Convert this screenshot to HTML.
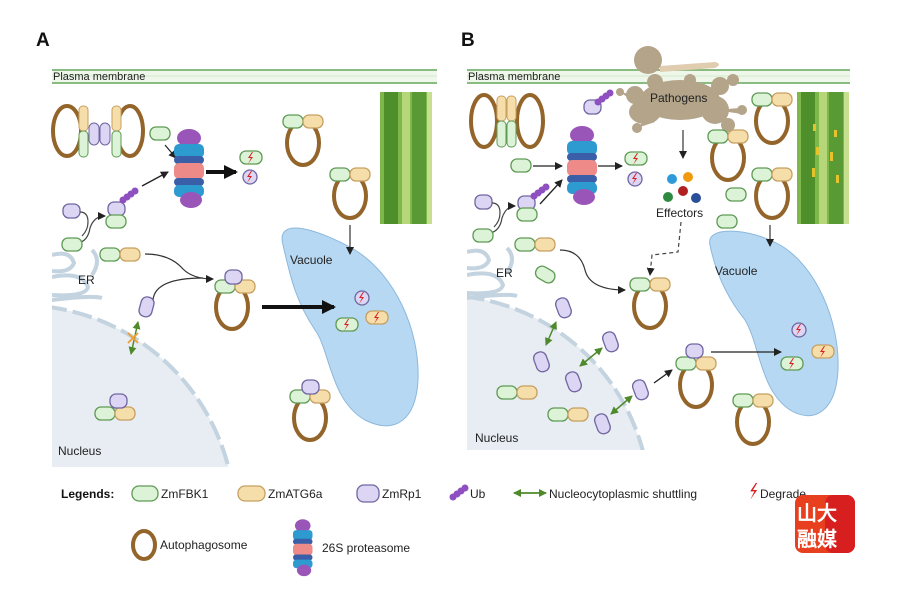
<!DOCTYPE html>
<html><head><meta charset="utf-8"><style>
html,body{margin:0;padding:0;background:#fff;width:900px;height:600px;overflow:hidden}
svg{display:block}
text{font-family:"Liberation Sans",Arial,sans-serif}
</style></head><body>
<svg width="900" height="600" viewBox="0 0 900 600" xmlns="http://www.w3.org/2000/svg">
<defs>
<marker id="ah" markerWidth="8" markerHeight="8" refX="7" refY="4" orient="auto" markerUnits="userSpaceOnUse"><path d="M0,0 L8,4 L0,8 z" fill="#222"/></marker>
<marker id="ahb" markerWidth="14" markerHeight="14" refX="12" refY="7" orient="auto" markerUnits="userSpaceOnUse"><path d="M0,0 L14,7 L0,14 z" fill="#111"/></marker>
<marker id="ga" markerWidth="8" markerHeight="8" refX="7" refY="4" orient="auto-start-reverse" markerUnits="userSpaceOnUse"><path d="M0,0 L8,4 L0,8 z" fill="#4e8a2c"/></marker>
<g id="G"><rect x="0" y="0" width="20" height="13" rx="6" fill="#dcf3d8" stroke="#5f9a55" stroke-width="1.3"/></g>
<g id="Y"><rect x="0" y="0" width="20" height="13" rx="6" fill="#f6deaa" stroke="#c6a060" stroke-width="1.3"/></g>
<g id="P"><rect x="0" y="0" width="17" height="14" rx="6" fill="#dcd6f4" stroke="#6f66a0" stroke-width="1.3"/></g>
<g id="PV"><rect x="0" y="0" width="13" height="20" rx="6" fill="#dcd6f4" stroke="#6f66a0" stroke-width="1.3"/></g>
<g id="R"><ellipse cx="0" cy="0" rx="16" ry="22" fill="none" stroke="#93652a" stroke-width="4"/></g>
<g id="GY"><use href="#G"/><use href="#Y" x="20"/></g>
<g id="RGY"><use href="#R" x="20" y="28"/><use href="#GY" x="0" y="0"/></g>
<g id="bolt"><path d="M2,0 L-2,6 L1,6 L-2,12 L3,5 L0,5 L3,0z" fill="#d82020"/></g>
<g id="DG"><rect x="0" y="0" width="22" height="13" rx="6" fill="#dcf3d8" stroke="#5f9a55" stroke-width="1.3"/><use href="#bolt" x="10" y="1"/></g>
<g id="DY"><rect x="0" y="0" width="22" height="13" rx="6" fill="#f6deaa" stroke="#c6a060" stroke-width="1.3"/><use href="#bolt" x="10" y="1"/></g>
<g id="DP"><circle cx="8" cy="7" r="7" fill="#dcd6f4" stroke="#6f66a0" stroke-width="1.3"/><use href="#bolt" x="7" y="1"/></g>
<g id="UB"><circle cx="0" cy="0" r="3.5" fill="#8e4fc0"/><circle cx="4" cy="-3" r="3.5" fill="#8e4fc0"/><circle cx="8" cy="-6" r="3.5" fill="#8e4fc0"/><circle cx="12" cy="-9" r="3.5" fill="#8e4fc0"/></g>
<g id="PRO">
<ellipse cx="15" cy="8" rx="12" ry="9" fill="#9a55b8"/>
<rect x="0" y="14" width="30" height="14" rx="5" fill="#2e9bd0"/>
<rect x="0" y="26" width="30" height="8" rx="4" fill="#3a5fa8"/>
<rect x="0" y="33" width="30" height="16" rx="5" fill="#ee8a88"/>
<rect x="0" y="48" width="30" height="8" rx="4" fill="#3a5fa8"/>
<rect x="0" y="55" width="30" height="12" rx="5" fill="#2e9bd0"/>
<ellipse cx="17" cy="70" rx="11" ry="8" fill="#9a55b8"/>
</g>
<g id="LEAF"><rect x="0" y="0" width="52" height="132" fill="#7fb84a"/><rect x="4" y="0" width="14" height="132" fill="#4e8f2c"/><rect x="22" y="0" width="8" height="132" fill="#b6d67a"/><rect x="32" y="0" width="14" height="132" fill="#5a9a34"/><rect x="47" y="0" width="5" height="132" fill="#c6e090"/></g>
</defs>

<text x="36" y="46" font-size="19" font-weight="bold" fill="#111">A</text>
<text x="461" y="46" font-size="19" font-weight="bold" fill="#111">B</text>

<!-- ===== PANEL A ===== -->
<g>
<clipPath id="ca"><rect x="52" y="84" width="385" height="383"/></clipPath>
<g clip-path="url(#ca)">
<circle cx="20" cy="520" r="215" fill="#e7edf2"/>
<circle cx="20" cy="520" r="215" fill="none" stroke="#c3d3df" stroke-width="4" stroke-dasharray="20 6"/>
<g fill="none" stroke="#c3d3df" stroke-width="4">
<path d="M52,255 q18,-5 22,8 q-4,10 -22,8"/>
<path d="M52,277 q30,-6 36,10 q-2,10 -36,8"/>
<path d="M52,300 q40,-5 50,-2"/>
<path d="M92,250 q10,10 0,25"/>
</g>
</g>
<rect x="52" y="69" width="385" height="15" fill="#eef7ea"/>
<line x1="52" y1="70" x2="437" y2="70" stroke="#88bc80" stroke-width="2"/>
<line x1="52" y1="83" x2="437" y2="83" stroke="#88bc80" stroke-width="2"/>
<line x1="52" y1="76" x2="437" y2="76" stroke="#d3e8cc" stroke-width="1"/>
<text x="53" y="80" font-size="11" fill="#222">Plasma membrane</text>

<ellipse cx="67" cy="131" rx="14" ry="25" fill="none" stroke="#93652a" stroke-width="4"/>
<ellipse cx="130" cy="131" rx="13" ry="25" fill="none" stroke="#93652a" stroke-width="4"/>
<rect x="79" y="106" width="9" height="25" rx="4" fill="#f6deaa" stroke="#c6a060"/>
<rect x="79" y="131" width="9" height="26" rx="4" fill="#dcf3d8" stroke="#5f9a55"/>
<rect x="112" y="106" width="9" height="25" rx="4" fill="#f6deaa" stroke="#c6a060"/>
<rect x="112" y="131" width="9" height="26" rx="4" fill="#dcf3d8" stroke="#5f9a55"/>
<rect x="89" y="123" width="10" height="22" rx="5" fill="#dcd6f4" stroke="#6f66a0"/>
<rect x="100" y="123" width="10" height="22" rx="5" fill="#dcd6f4" stroke="#6f66a0"/>

<use href="#G" x="150" y="127"/>
<line x1="165" y1="145" x2="176" y2="158" stroke="#222" stroke-width="1.2" marker-end="url(#ah)"/>
<use href="#PRO" x="174" y="130"/>
<line x1="206" y1="172" x2="236" y2="172" stroke="#111" stroke-width="4" marker-end="url(#ahb)"/>
<use href="#DG" x="240" y="151"/>
<use href="#DP" x="242" y="170"/>

<use href="#P" x="63" y="204"/>
<path d="M80,212 q8,0 8,10 q0,8 -6,14" fill="none" stroke="#444" stroke-width="1.2"/>
<path d="M78,243 q10,-2 12,-15 q4,-12 15,-12" fill="none" stroke="#444" stroke-width="1.2" marker-end="url(#ah)"/>
<use href="#P" x="108" y="202"/>
<use href="#G" x="106" y="215"/>
<use href="#UB" x="123" y="200"/>
<line x1="142" y1="186" x2="168" y2="172" stroke="#222" stroke-width="1.3" marker-end="url(#ah)"/>
<use href="#G" x="62" y="238"/>
<use href="#GY" x="100" y="248"/>

<path d="M145,254 q25,0 38,15 q10,10 30,10" fill="none" stroke="#333" stroke-width="1.2" marker-end="url(#ah)"/>
<path d="M153,300 q2,-22 50,-22" fill="none" stroke="#333" stroke-width="1.2"/>
<use href="#PV" x="140" y="297" transform="rotate(15 147 307)"/>
<text x="78" y="284" font-size="12" fill="#222">ER</text>

<line x1="138" y1="322" x2="131" y2="354" stroke="#4e8a2c" stroke-width="1.5" marker-start="url(#ga)" marker-end="url(#ga)"/>
<path d="M128,333 l10,10 M138,333 l-10,10" stroke="#f0a030" stroke-width="1.8"/>

<use href="#R" x="232" y="307"/>
<use href="#GY" x="215" y="280"/>
<use href="#P" x="225" y="270"/>

<use href="#RGY" x="283" y="115"/>
<use href="#RGY" x="330" y="168"/>
<use href="#LEAF" x="380" y="92"/>
<path d="M283,245 C275,215 320,230 355,250 C395,275 420,330 418,380 C416,420 395,435 365,420 C330,400 330,350 315,330 C295,300 290,275 283,245 z" fill="#b7d8f2" stroke="#8cb8dc" stroke-width="1"/>
<line x1="262" y1="307" x2="334" y2="307" stroke="#111" stroke-width="4" marker-end="url(#ahb)"/>
<line x1="350" y1="225" x2="350" y2="254" stroke="#333" stroke-width="1.2" marker-end="url(#ah)"/>
<text x="290" y="264" font-size="12" fill="#222">Vacuole</text>
<use href="#DP" x="354" y="291"/>
<use href="#DY" x="366" y="311"/>
<use href="#DG" x="336" y="318"/>

<use href="#RGY" x="290" y="390"/>
<use href="#P" x="302" y="380"/>
<use href="#GY" x="95" y="407"/>
<use href="#P" x="110" y="394"/>
<text x="58" y="455" font-size="12" fill="#222">Nucleus</text>
</g>

<!-- ===== PANEL B ===== -->
<g>
<clipPath id="cb"><rect x="467" y="84" width="383" height="366"/></clipPath>
<g clip-path="url(#cb)">
<circle cx="440" cy="505" r="210" fill="#e7edf2"/>
<circle cx="440" cy="505" r="210" fill="none" stroke="#c3d3df" stroke-width="4" stroke-dasharray="20 6"/>
<g fill="none" stroke="#c3d3df" stroke-width="4">
<path d="M467,252 q18,-5 22,8 q-4,10 -22,8"/>
<path d="M467,275 q30,-6 36,10 q-2,10 -36,8"/>
<path d="M467,298 q40,-5 50,-2"/>
<path d="M507,248 q10,10 0,25"/>
</g>
</g>
<rect x="467" y="69" width="383" height="15" fill="#eef7ea"/>
<line x1="467" y1="70" x2="850" y2="70" stroke="#88bc80" stroke-width="2"/>
<line x1="467" y1="83" x2="850" y2="83" stroke="#88bc80" stroke-width="2"/>
<line x1="467" y1="76" x2="850" y2="76" stroke="#d3e8cc" stroke-width="1"/>
<text x="468" y="80" font-size="11" fill="#222">Plasma membrane</text>

<g fill="#b3a48a">
<path d="M660,66 L715,62 q8,2 0,6 L660,72z" fill="#e0cdb0"/>
<circle cx="648" cy="60" r="14"/>
<ellipse cx="680" cy="100" rx="40" ry="20"/>
<circle cx="655" cy="82" r="8"/>
<circle cx="690" cy="80" r="6"/>
<circle cx="720" cy="86" r="9"/>
<circle cx="733" cy="80" r="6"/>
<ellipse cx="645" cy="112" rx="16" ry="12"/>
<ellipse cx="715" cy="110" rx="14" ry="14"/>
<circle cx="635" cy="95" r="9"/>
<circle cx="620" cy="92" r="4"/>
<circle cx="728" cy="125" r="7"/>
<circle cx="742" cy="110" r="5"/>
<circle cx="637" cy="128" r="5"/>
<path d="M620,92 L640,96 L640,106 Z"/>
<path d="M637,128 L650,115 L655,122z"/>
<path d="M715,110 L740,108 L742,114z"/>
</g>
<text x="650" y="102" font-size="12" fill="#222">Pathogens</text>

<ellipse cx="484" cy="121" rx="13" ry="26" fill="none" stroke="#93652a" stroke-width="4"/>
<ellipse cx="530" cy="121" rx="13" ry="26" fill="none" stroke="#93652a" stroke-width="4"/>
<rect x="497" y="96" width="9" height="25" rx="4" fill="#f6deaa" stroke="#c6a060"/>
<rect x="507" y="96" width="9" height="25" rx="4" fill="#f6deaa" stroke="#c6a060"/>
<rect x="497" y="121" width="9" height="26" rx="4" fill="#dcf3d8" stroke="#5f9a55"/>
<rect x="507" y="121" width="9" height="26" rx="4" fill="#dcf3d8" stroke="#5f9a55"/>

<use href="#P" x="584" y="100"/>
<use href="#UB" x="598" y="102"/>
<use href="#G" x="511" y="159"/>
<line x1="533" y1="166" x2="562" y2="166" stroke="#222" stroke-width="1.3" marker-end="url(#ah)"/>
<use href="#PRO" x="567" y="127"/>
<line x1="598" y1="166" x2="622" y2="166" stroke="#222" stroke-width="1.3" marker-end="url(#ah)"/>
<use href="#DG" x="625" y="152"/>
<use href="#DP" x="627" y="172"/>
<line x1="683" y1="130" x2="683" y2="158" stroke="#333" stroke-width="1.2" marker-end="url(#ah)"/>
<circle cx="672" cy="179" r="5" fill="#2e9bd8"/>
<circle cx="688" cy="177" r="5" fill="#f09a10"/>
<circle cx="683" cy="191" r="5" fill="#b02020"/>
<circle cx="668" cy="197" r="5" fill="#2e8a40"/>
<circle cx="696" cy="198" r="5" fill="#2a4f9a"/>
<text x="656" y="217" font-size="12" fill="#222">Effectors</text>
<path d="M681,222 L678,252 L652,255 L650,275" fill="none" stroke="#444" stroke-width="1.2" stroke-dasharray="4 3" marker-end="url(#ah)"/>

<use href="#P" x="475" y="195"/>
<path d="M492,203 q8,0 8,10 q0,8 -6,14" fill="none" stroke="#444" stroke-width="1.2"/>
<path d="M490,233 q10,-2 12,-15 q4,-12 13,-12" fill="none" stroke="#444" stroke-width="1.2" marker-end="url(#ah)"/>
<use href="#P" x="518" y="196"/>
<use href="#G" x="517" y="208"/>
<use href="#UB" x="534" y="196"/>
<line x1="540" y1="204" x2="562" y2="180" stroke="#222" stroke-width="1.3" marker-end="url(#ah)"/>
<use href="#G" x="473" y="229"/>
<use href="#GY" x="515" y="238"/>
<text x="496" y="277" font-size="12" fill="#222">ER</text>
<use href="#G" x="535" y="268" transform="rotate(30 545 275)"/>
<path d="M560,250 q20,0 25,20 q5,20 40,20" fill="none" stroke="#333" stroke-width="1.2" marker-end="url(#ah)"/>
<use href="#RGY" x="630" y="278"/>

<use href="#PV" x="557" y="298" transform="rotate(-20 563 308)"/>
<line x1="556" y1="322" x2="546" y2="345" stroke="#4e8a2c" stroke-width="1.5" marker-start="url(#ga)" marker-end="url(#ga)"/>
<use href="#PV" x="535" y="352" transform="rotate(-20 541 362)"/>
<use href="#PV" x="604" y="332" transform="rotate(-20 610 342)"/>
<line x1="602" y1="348" x2="580" y2="366" stroke="#4e8a2c" stroke-width="1.5" marker-start="url(#ga)" marker-end="url(#ga)"/>
<use href="#PV" x="567" y="372" transform="rotate(-20 573 382)"/>
<use href="#PV" x="634" y="380" transform="rotate(-20 640 390)"/>
<line x1="632" y1="396" x2="611" y2="414" stroke="#4e8a2c" stroke-width="1.5" marker-start="url(#ga)" marker-end="url(#ga)"/>
<use href="#PV" x="596" y="414" transform="rotate(-20 602 424)"/>
<line x1="654" y1="383" x2="672" y2="370" stroke="#222" stroke-width="1.3" marker-end="url(#ah)"/>
<use href="#GY" x="497" y="386"/>
<use href="#GY" x="548" y="408"/>
<text x="475" y="442" font-size="12" fill="#222">Nucleus</text>

<use href="#RGY" x="676" y="357"/>
<use href="#P" x="686" y="344"/>

<use href="#RGY" x="752" y="93"/>
<use href="#RGY" x="708" y="130"/>
<use href="#RGY" x="752" y="168"/>
<use href="#G" x="726" y="188"/>
<use href="#G" x="717" y="215"/>
<use href="#LEAF" x="797" y="92"/>
<g fill="#e6c32a"><rect x="813" y="124" width="3" height="7"/><rect x="834" y="130" width="3" height="7"/><rect x="816" y="147" width="3" height="8"/><rect x="830" y="152" width="3" height="9"/><rect x="812" y="168" width="3" height="9"/><rect x="836" y="175" width="3" height="8"/></g>
<path d="M710,245 C705,225 750,228 780,245 C815,265 840,320 838,370 C836,410 815,425 790,410 C760,390 760,345 745,320 C725,295 715,270 710,245 z" fill="#b7d8f2" stroke="#8cb8dc" stroke-width="1"/>
<line x1="711" y1="352" x2="781" y2="352" stroke="#222" stroke-width="1.3" marker-end="url(#ah)"/>
<line x1="770" y1="225" x2="770" y2="246" stroke="#333" stroke-width="1.2" marker-end="url(#ah)"/>
<text x="715" y="275" font-size="12" fill="#222">Vacuole</text>
<use href="#DP" x="791" y="323"/>
<use href="#DY" x="812" y="345"/>
<use href="#DG" x="781" y="357"/>
<use href="#RGY" x="733" y="394"/>
</g>

<!-- ===== LEGEND ===== -->
<text x="61" y="498" font-size="12" font-weight="bold" fill="#111">Legends:</text>
<rect x="132" y="486" width="26" height="15" rx="7" fill="#dcf3d8" stroke="#5f9a55" stroke-width="1.3"/>
<text x="161" y="498" font-size="12" fill="#222">ZmFBK1</text>
<rect x="238" y="486" width="27" height="15" rx="7" fill="#f6deaa" stroke="#c6a060" stroke-width="1.3"/>
<text x="268" y="498" font-size="12" fill="#222">ZmATG6a</text>
<rect x="357" y="485" width="22" height="17" rx="7" fill="#dcd6f4" stroke="#6f66a0" stroke-width="1.3"/>
<text x="382" y="498" font-size="12" fill="#222">ZmRp1</text>
<use href="#UB" x="453" y="497"/>
<text x="470" y="498" font-size="12" fill="#222">Ub</text>
<line x1="514" y1="493" x2="546" y2="493" stroke="#4e8a2c" stroke-width="1.8" marker-start="url(#ga)" marker-end="url(#ga)"/>
<text x="549" y="498" font-size="12" fill="#222">Nucleocytoplasmic shuttling</text>
<g transform="translate(753,483) scale(1.4)"><use href="#bolt"/></g>
<text x="760" y="498" font-size="12" fill="#222">Degrade</text>
<ellipse cx="144" cy="545" rx="11" ry="14" fill="none" stroke="#93652a" stroke-width="4"/>
<text x="160" y="549" font-size="12" fill="#222">Autophagosome</text>
<g transform="translate(293,520) scale(0.65,0.72)"><use href="#PRO"/></g>
<text x="322" y="552" font-size="12" fill="#222">26S proteasome</text>

<rect x="795" y="495" width="60" height="58" rx="8" fill="#e8401f"/>
<rect x="825" y="495" width="30" height="58" rx="8" fill="#d81f1f"/>
<text x="797" y="520" font-size="20" font-weight="bold" fill="#fff" font-family="'Noto Sans CJK SC',sans-serif">山大</text>
<text x="797" y="546" font-size="20" font-weight="bold" fill="#fff" font-family="'Noto Sans CJK SC',sans-serif">融媒</text>
</svg>
</body></html>
